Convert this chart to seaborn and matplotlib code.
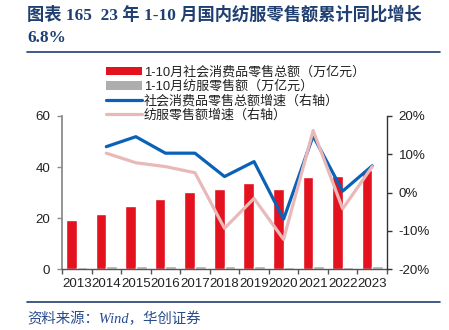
import numpy as np
import pandas as pd
import matplotlib
matplotlib.use("Agg")
import matplotlib.pyplot as plt
from matplotlib.lines import Line2D
from matplotlib.patches import Patch
import seaborn as sns

sns.set_theme(style="white")
plt.rcParams["font.family"] = ["Liberation Sans", "Noto Sans CJK SC", "DejaVu Sans"]

years = ["2013", "2014", "2015", "2016", "2017", "2018", "2019", "2020", "2021", "2022", "2023"]
retail_total = [19.3, 21.7, 24.8, 27.4, 30.2, 31.4, 33.9, 31.5, 36.2, 36.5, 38.8]      # 万亿元
apparel_retail = [1.0, 1.1, 1.1, 1.2, 1.2, 1.1, 1.1, 0.9, 1.1, 1.0, 1.1]              # 万亿元
retail_growth = [np.nan, 12.0, 14.6, 10.3, 10.3, 4.2, 8.1, -6.9, 14.8, 0.4, 7.0]       # %
apparel_growth = [np.nan, 10.3, 7.8, 6.8, 5.2, -9.3, -1.5, -12.2, 16.2, -4.2, 6.8]     # %

lab_total = "1-10月社会消费品零售总额（万亿元）"
lab_apparel = "1-10月纺服零售额（万亿元）"
lab_rg = "社会消费品零售总额增速（右轴）"
lab_ag = "纺服零售额增速（右轴）"

RED = "#E3121E"
GRAY = "#ADADAD"
BLUE = "#0A62B8"
PINK = "#E8B9B8"
NAVY = "#1F3F73"

bars = pd.DataFrame({
    "year": years * 2,
    "value": retail_total + apparel_retail,
    "series": [lab_total] * len(years) + [lab_apparel] * len(years),
})
pos = np.arange(len(years))
lines = pd.DataFrame({"pos": pos, "rg": retail_growth, "ag": apparel_growth})

fig = plt.figure(figsize=(4.49, 3.30), dpi=100)
ax = fig.add_axes([62 / 449, 1 - 269.3 / 330, 325 / 449, 153.3 / 330])

sns.barplot(data=bars, x="year", y="value", hue="series", palette=[RED, GRAY],
            width=0.72, saturation=1, ax=ax, legend=False)
ax.set_ylim(0, 60)
ax.set_xlim(-0.5, len(years) - 0.5)
ax.set_yticks([0, 20, 40, 60])
ax.set_xlabel("")
ax.set_ylabel("")

ax2 = ax.twinx()
sns.lineplot(data=lines, x="pos", y="rg", color=BLUE, lw=2.3, ax=ax2)
sns.lineplot(data=lines, x="pos", y="ag", color=PINK, lw=2.3, ax=ax2)
ax2.set_ylim(-20, 20)
ax2.set_yticks([-20, -10, 0, 10, 20])
ax2.set_yticklabels([f"{v}%" for v in [-20, -10, 0, 10, 20]])
ax2.set_xlabel("")
ax2.set_ylabel("")
ax.set_xlim(-0.5, len(years) - 0.5)

# spines
for a in (ax, ax2):
    a.spines["top"].set_visible(False)
ax.spines["right"].set_visible(False)
ax2.spines["left"].set_visible(False)
ax2.spines["bottom"].set_visible(False)
ax.spines["left"].set_color("#8C8C8C")
ax.spines["left"].set_linewidth(1.3)
ax2.spines["right"].set_color("#333333")
ax2.spines["right"].set_linewidth(1.0)
ax.spines["bottom"].set_color("#555555")
ax.spines["bottom"].set_linewidth(1.0)

ax.tick_params(axis="y", left=True, length=3.5, width=1.0, color="#8C8C8C",
               labelsize=9.6, pad=5, labelcolor="#222222")
ax2.tick_params(axis="y", right=True, length=3.5, width=1.0, color="#333333",
                labelsize=9.6, pad=5, labelcolor="#222222")
ax.set_xticks(pos)
ax.set_xticklabels(years)
ax.set_xticks(np.arange(-0.5, len(years), 1.0), minor=True)
ax.tick_params(axis="x", which="major", length=0, labelsize=9.6, pad=6, labelcolor="#222222")
ax.tick_params(axis="x", which="minor", bottom=True, length=3.5, width=1.0, color="#555555")

# legend
handles = [
    Patch(facecolor=RED, edgecolor="none", label=lab_total),
    Patch(facecolor=GRAY, edgecolor="none", label=lab_apparel),
    Line2D([], [], color=BLUE, lw=2.3, label=lab_rg),
    Line2D([], [], color=PINK, lw=2.3, label=lab_ag),
]
fig.legend(handles=handles, loc="upper left", bbox_to_anchor=(106 / 449, 1 - 66 / 330),
           frameon=False, fontsize=9.4, handlelength=2.75, handleheight=0.6,
           handletextpad=0.15, labelspacing=0.13, borderaxespad=0, borderpad=0,
           labelcolor="#222222")

# title and source
fig.text(27 / 449, 1 - 6 / 330, "图表 165  23 年 1-10 月国内纺服零售额累计同比增长\n6.8%",
         ha="left", va="top", fontsize=12.4, fontweight="bold", color=NAVY,
         family=["Liberation Serif", "Noto Sans CJK SC"], linespacing=1.5)
fig.add_artist(Line2D([27 / 449, 440 / 449], [1 - 51.7 / 330] * 2, color=NAVY, lw=1.2))
fig.add_artist(Line2D([27 / 449, 440 / 449], [1 - 301.7 / 330] * 2, color=NAVY, lw=1.2))
fig.text(27 / 449, 1 - 319 / 330, "资料来源：Wind，华创证券", ha="left", va="center",
         fontsize=10.4, style="italic", color="#2A4C8C",
         family=["Liberation Serif", "Noto Sans CJK SC"])

fig.savefig("out.png", dpi=100)
